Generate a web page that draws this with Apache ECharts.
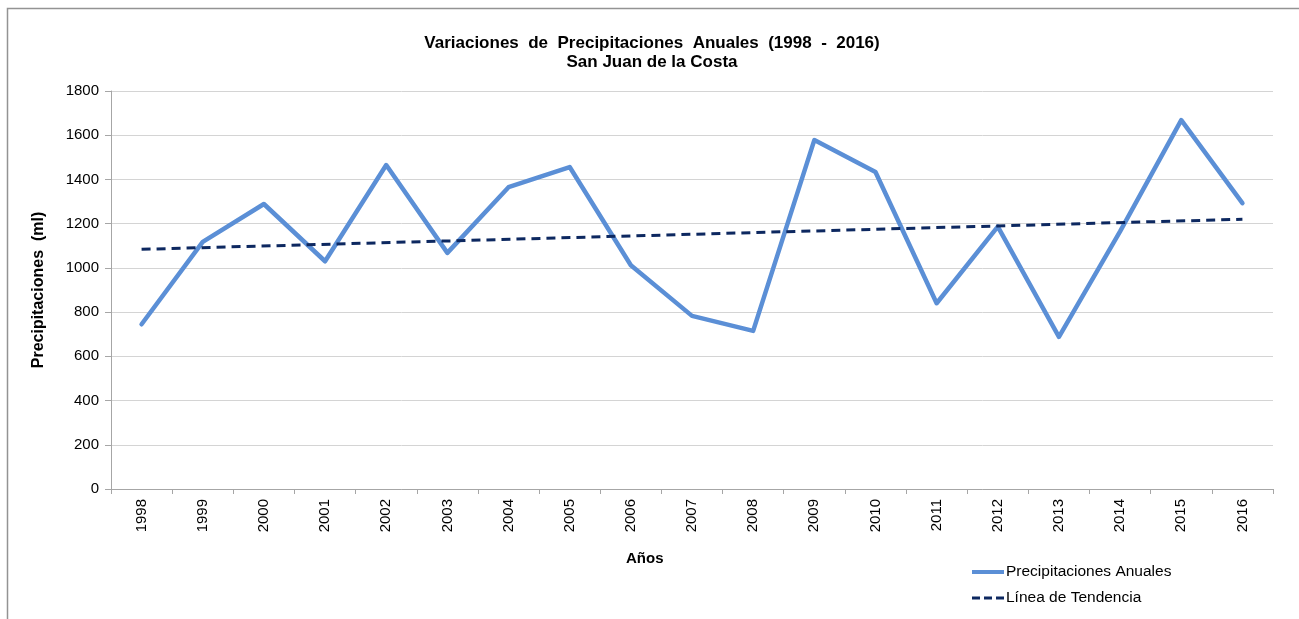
<!DOCTYPE html>
<html>
<head>
<meta charset="utf-8">
<title>Variaciones de Precipitaciones Anuales</title>
<script src="https://cdn.jsdelivr.net/npm/echarts@6/dist/echarts.min.js"></script>
<style>
  html, body { margin: 0; padding: 0; background: #fff; }
  #chart { width: 1299px; height: 619px; }
</style>
</head>
<body>
<div id="chart"></div>
<script>
// years on the x axis
var years = ['1998', '1999', '2000', '2001', '2002', '2003', '2004', '2005', '2006', '2007',
  '2008', '2009', '2010', '2011', '2012', '2013', '2014', '2015', '2016'];
// annual rainfall
var precip = [745, 1118, 1289, 1030, 1465, 1068, 1365, 1456, 1012, 783,
  715, 1578, 1434, 840, 1187, 688, 1165, 1668, 1293];
// trend line endpoints (1998 and 2016), the rest are left empty
var trend = [1084, null, null, null, null, null, null, null, null, null,
  null, null, null, null, null, null, null, null, 1220];
var yTicks = { min: 0, max: 1800, step: 200 };

var fontFam = '"Liberation Sans", Arial, sans-serif';
var chart = echarts.init(document.getElementById('chart'));

var option = {
  backgroundColor: '#fff',
  animation: false,
  textStyle: { fontFamily: fontFam },
  title: {
    text: 'Variaciones  de  Precipitaciones  Anuales  (1998  -  2016)\nSan Juan de la Costa',
    top: 29,
    left: 647,
    textAlign: 'center',
    textStyle: { fontSize: 17, fontWeight: 'bold', color: '#000', lineHeight: 19, fontFamily: fontFam }
  },
  grid: { left: 111, right: 26, top: 91, bottom: 130 },
  legend: {
    orient: 'vertical',
    left: 972,
    top: 564,
    height: 55,
    padding: 0,
    itemWidth: 32,
    itemHeight: 4,
    itemGap: 10,
    textStyle: { fontSize: 15.5, color: '#000', fontFamily: fontFam, padding: [0, 0, 0, -3] },
    data: [
      { name: 'Precipitaciones Anuales', icon: 'rect' },
      { name: 'Línea de Tendencia', icon: 'path://M0,0h8v3h-8z M12,0h8v3h-8z M24,0h8v3h-8z' }
    ]
  },
  xAxis: {
    type: 'category',
    data: years,
    boundaryGap: true,
    axisLine: { lineStyle: { color: '#a6a6a6', width: 1 } },
    axisTick: { show: true, length: 5, lineStyle: { color: '#a6a6a6' } },
    axisLabel: { rotate: 90, fontSize: 15, color: '#000', margin: 10, fontFamily: fontFam },
    splitLine: { show: false }
  },
  yAxis: {
    type: 'value',
    min: yTicks.min,
    max: yTicks.max,
    interval: yTicks.step,
    name: 'Precipitaciones  (ml)',
    nameLocation: 'middle',
    nameGap: 64,
    nameTextStyle: { fontSize: 16, fontWeight: 'bold', color: '#000', fontFamily: fontFam },
    axisLine: { show: true, lineStyle: { color: '#a6a6a6', width: 1 } },
    axisTick: { show: true, length: 6, lineStyle: { color: '#a6a6a6' } },
    axisLabel: {
      fontSize: 15, color: '#000', margin: 12, fontFamily: fontFam,
      formatter: function (v) { return String(v); }
    },
    splitLine: { show: true, lineStyle: { color: '#d4d4d4', width: 1 } }
  },
  series: [
    {
      name: 'Precipitaciones Anuales',
      type: 'line',
      data: precip,
      symbol: 'none',
      lineStyle: { color: '#5B8FD6', width: 4.5, cap: 'round', join: 'round' },
      itemStyle: { color: '#5B8FD6' },
      z: 2
    },
    {
      name: 'Línea de Tendencia',
      type: 'line',
      data: trend,
      connectNulls: true,
      symbol: 'none',
      lineStyle: { color: '#0D2860', width: 3, type: [9, 6] },
      itemStyle: { color: '#0D2860' },
      z: 3
    }
  ],
  graphic: [
    {
      type: 'text',
      left: 626,
      top: 551,
      style: { text: 'Años', fontSize: 15, fontWeight: 'bold', fill: '#000', fontFamily: fontFam }
    },
    {
      type: 'polyline',
      shape: { points: [[7.5, 619], [7.5, 8.5], [1299, 8.5]] },
      style: { stroke: '#939393', lineWidth: 1.5, fill: null },
      silent: true
    }
  ]
};

chart.setOption(option);
</script>
</body>
</html>
